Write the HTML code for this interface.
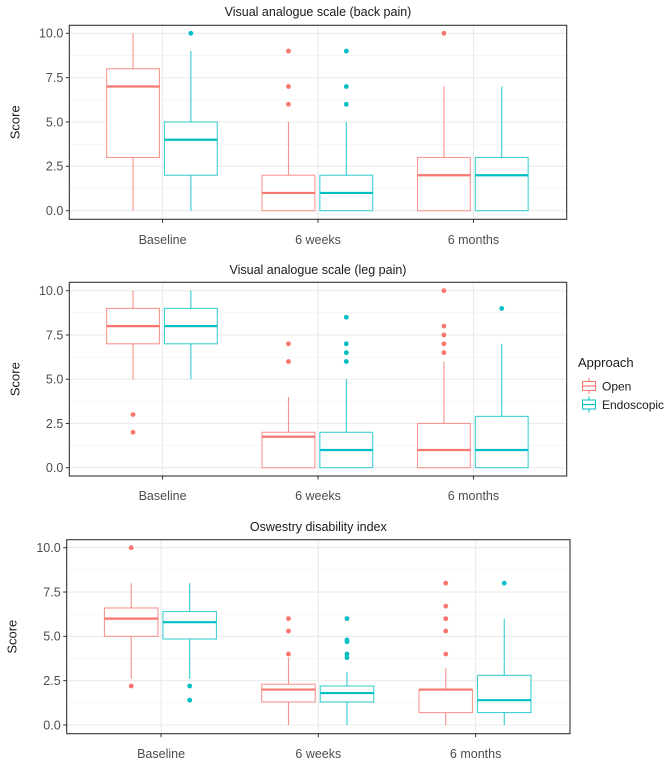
<!DOCTYPE html>
<html><head><meta charset="utf-8"><style>
body{margin:0;background:#fff;}
svg text{font-family:"Liberation Sans",sans-serif;}
</style></head><body>
<svg id="chart" width="672" height="765" viewBox="0 0 672 765"></svg>
<script>
const categories = ["Baseline","6 weeks","6 months"];
const groups = ["Open","Endoscopic"];
const yTicks = [0,2.5,5,7.5,10];
const yTickLabels = ["0.0","2.5","5.0","7.5","10.0"];
const panelTitles = ["Visual analogue scale (back pain)","Visual analogue scale (leg pain)","Oswestry disability index"];
// [lo, q1, median, q3, hi] per category, per group
const backOpen = [[0,3,7,8,10],[0,0,1,2,5],[0,0,2,3,7]];
const backEndo = [[0,2,4,5,9],[0,0,1,2,5],[0,0,2,3,7]];
const backOpenOut = [[],[6,7,9],[10]];
const backEndoOut = [[10],[6,7,9],[]];
const legOpen = [[5,7,8,9,10],[0,0,1.75,2,4],[0,0,1,2.5,6]];
const legEndo = [[5,7,8,9,10],[0,0,1,2,5],[0,0,1,2.9,7]];
const legOpenOut = [[2,3],[6,7],[6.5,7,7.5,8,10]];
const legEndoOut = [[],[6,6.5,7,8.5],[9]];
const odiOpen = [[2.6,5,6,6.6,8],[0,1.3,2,2.3,3.8],[0,0.7,2,2,3.2]];
const odiEndo = [[2.6,4.85,5.8,6.4,8],[0,1.3,1.8,2.2,3],[0,0.7,1.4,2.8,6]];
const odiOpenOut = [[2.2,10],[4,5.3,6],[4,5.3,6,6.7,8]];
const odiEndoOut = [[1.4,2.2],[3.8,4,4.7,4.8,6],[8]];

const colors = ["#F8766D","#00BFC4"];
const NS = "http://www.w3.org/2000/svg";
const svg = document.getElementById("chart");
function mk(tag, attrs, parent){const e=document.createElementNS(NS,tag);for(const k in attrs)e.setAttribute(k,attrs[k]);(parent||svg).appendChild(e);return e;}

const panels = [
 {x0:69.3,x1:566.7,top:25.3,bot:219.3,y10:33.3,y0:210.7,titleY:16,labY:244,data:[backOpen,backEndo],out:[backOpenOut,backEndoOut],name:"back-pain"},
 {x0:69.3,x1:566.7,top:282.3,bot:476,y10:290.7,y0:467.7,titleY:274,labY:500,data:[legOpen,legEndo],out:[legOpenOut,legEndoOut],name:"leg-pain"},
 {x0:66.7,x1:570,top:539.7,bot:733.7,y10:547.7,y0:725,titleY:531,labY:758,data:[odiOpen,odiEndo],out:[odiOpenOut,odiEndoOut],name:"odi"}
];

panels.forEach((p,pi)=>{
  const g = mk("g",{});
  
  
  const y = v => p.y0 + (p.y10-p.y0)*v/10;
  const unit = (p.x1-p.x0)/3.2;
  const xc = i => p.x0 + (0.6+i)*unit;
  // grid
  [1.25,3.75,6.25,8.75].forEach(v=>mk("line",{x1:p.x0,x2:p.x1,y1:y(v),y2:y(v),stroke:"#f2f2f2","stroke-width":0.6},g));
  yTicks.forEach(v=>mk("line",{x1:p.x0,x2:p.x1,y1:y(v),y2:y(v),stroke:"#ebebeb","stroke-width":1.1},g));
  categories.forEach((c,i)=>mk("line",{x1:xc(i),x2:xc(i),y1:p.top,y2:p.bot,stroke:"#ebebeb","stroke-width":1.1},g));
  // title
  const t = mk("text",{x:(p.x0+p.x1)/2,y:p.titleY,"text-anchor":"middle","font-size":12.5,fill:"#1a1a1a"},g);
  t.textContent = panelTitles[pi];
  
  
  // y axis
  yTicks.forEach((v,k)=>{
    mk("line",{x1:p.x0-3.5,x2:p.x0,y1:y(v),y2:y(v),stroke:"#333","stroke-width":1},g);
    const l = mk("text",{x:p.x0-6,y:y(v)+4.3,"text-anchor":"end","font-size":12.5,fill:"#4d4d4d"},g);
    l.textContent = yTickLabels[k];
    
    
  });
  const yl = mk("text",{x:0,y:0,"text-anchor":"middle","font-size":13,fill:"#1a1a1a",transform:`translate(${p.x0-50},${(p.top+p.bot)/2}) rotate(-90)`},g);
  yl.textContent = "Score";
  
  
  categories.forEach((c,i)=>{
    mk("line",{x1:xc(i),x2:xc(i),y1:p.bot,y2:p.bot+3.5,stroke:"#333","stroke-width":1},g);
    const l = mk("text",{x:xc(i),y:p.labY,"text-anchor":"middle","font-size":12.5,fill:"#4d4d4d"},g);
    l.textContent = c;
    
    
  });
  // boxes
  const offs = [[-0.36,-0.02],[0.012,0.352]];
  p.data.forEach((series,gi)=>{
    series.forEach((s,i)=>{
      const a = xc(i)+offs[gi][0]*unit, b = xc(i)+offs[gi][1]*unit, m=(a+b)/2;
      const bg = mk("g",{},g);
      
      
      mk("line",{x1:m,x2:m,y1:y(s[0]),y2:y(s[1]),stroke:colors[gi],"stroke-width":1.1,"stroke-opacity":0.8},bg);
      mk("line",{x1:m,x2:m,y1:y(s[3]),y2:y(s[4]),stroke:colors[gi],"stroke-width":1.1,"stroke-opacity":0.8},bg);
      mk("rect",{x:a,y:y(s[3]),width:b-a,height:y(s[1])-y(s[3]),fill:"#fff",stroke:colors[gi],"stroke-width":1.1,"stroke-opacity":0.75},bg);
      mk("line",{x1:a,x2:b,y1:y(s[2]),y2:y(s[2]),stroke:colors[gi],"stroke-width":2.2},bg);
      p.out[gi][i].forEach(v=>{
        const c = mk("circle",{cx:m,cy:y(v),r:2.4,fill:colors[gi]},bg);
        
        
      });
    });
  });
  mk("rect",{x:p.x0,y:p.top,width:p.x1-p.x0,height:p.bot-p.top,fill:"none",stroke:"#333","stroke-width":1.1},g);
});

// legend
const lg = mk("g",{});


const lt = mk("text",{x:578,y:367,"font-size":13,fill:"#1a1a1a"},lg);
lt.textContent = "Approach";
groups.forEach((gname,gi)=>{
  const cy = 386 + gi*18.5;
  const e = mk("g",{},lg);
  
  
  mk("line",{x1:589,x2:589,y1:cy-8,y2:cy+8,stroke:colors[gi],"stroke-width":1},e);
  mk("rect",{x:582.5,y:cy-4.5,width:13,height:9,fill:"#fff",stroke:colors[gi],"stroke-width":1},e);
  mk("line",{x1:582.5,x2:595.5,y1:cy,y2:cy,stroke:colors[gi],"stroke-width":1.2},e);
  const tx = mk("text",{x:602,y:cy+4.3,"font-size":12,fill:"#1a1a1a"},e);
  tx.textContent = gname;
});
</script>
</body></html>
